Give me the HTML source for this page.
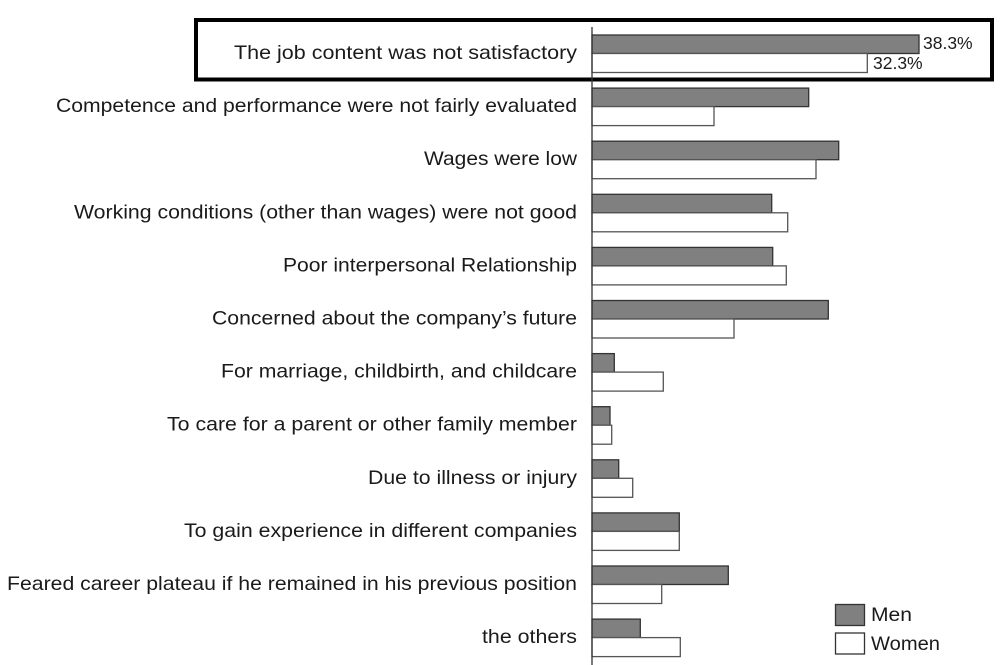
<!DOCTYPE html>
<html>
<head>
<meta charset="utf-8">
<style>
html,body{margin:0;padding:0;background:#fff;}
svg{display:block;}
text{font-family:"Liberation Sans","Noto Sans CJK JP",sans-serif;fill:#1a1a1a;}
</style>
</head>
<body>
<svg width="1000" height="665" viewBox="0 0 1000 665" xmlns="http://www.w3.org/2000/svg">
<rect x="0" y="0" width="1000" height="665" fill="#fff"/>

<!-- highlight box -->
<rect x="196" y="20" width="796" height="59.5" fill="none" stroke="#000" stroke-width="4"/>

<!-- bars -->
<g stroke-width="1.3">
<rect x="592" y="35" width="327" height="18.5" fill="#808080" stroke="#333"/>
<rect x="592" y="53.5" width="275.3" height="19" fill="#fff" stroke="#555"/>
<rect x="592" y="88.1" width="216.7" height="18.5" fill="#808080" stroke="#333"/>
<rect x="592" y="106.6" width="122" height="19" fill="#fff" stroke="#555"/>
<rect x="592" y="141.2" width="246.7" height="18.5" fill="#808080" stroke="#333"/>
<rect x="592" y="159.7" width="224" height="19" fill="#fff" stroke="#555"/>
<rect x="592" y="194.3" width="179.7" height="18.5" fill="#808080" stroke="#333"/>
<rect x="592" y="212.8" width="195.7" height="19" fill="#fff" stroke="#555"/>
<rect x="592" y="247.4" width="180.7" height="18.5" fill="#808080" stroke="#333"/>
<rect x="592" y="265.9" width="194.3" height="19" fill="#fff" stroke="#555"/>
<rect x="592" y="300.5" width="236.3" height="18.5" fill="#808080" stroke="#333"/>
<rect x="592" y="319" width="142" height="19" fill="#fff" stroke="#555"/>
<rect x="592" y="353.6" width="22.3" height="18.5" fill="#808080" stroke="#333"/>
<rect x="592" y="372.1" width="71.3" height="19" fill="#fff" stroke="#555"/>
<rect x="592" y="406.7" width="18" height="18.5" fill="#808080" stroke="#333"/>
<rect x="592" y="425.2" width="19.7" height="19" fill="#fff" stroke="#555"/>
<rect x="592" y="459.8" width="26.7" height="18.5" fill="#808080" stroke="#333"/>
<rect x="592" y="478.3" width="40.7" height="19" fill="#fff" stroke="#555"/>
<rect x="592" y="512.9" width="87.3" height="18.5" fill="#808080" stroke="#333"/>
<rect x="592" y="531.4" width="87.3" height="19" fill="#fff" stroke="#555"/>
<rect x="592" y="566" width="136.3" height="18.5" fill="#808080" stroke="#333"/>
<rect x="592" y="584.5" width="69.7" height="19" fill="#fff" stroke="#555"/>
<rect x="592" y="619.1" width="48.3" height="18.5" fill="#808080" stroke="#333"/>
<rect x="592" y="637.6" width="88.3" height="19" fill="#fff" stroke="#555"/>
</g>

<!-- axis -->
<line x1="592" y1="27" x2="592" y2="665" stroke="#333" stroke-width="1.3"/>

<!-- value labels -->
<text x="923" y="49" font-size="17.5">38.3%</text>
<text x="873" y="69" font-size="17.5">32.3%</text>

<!-- category labels -->
<g font-size="19.5" text-anchor="end">
<text x="577" y="59" textLength="343" lengthAdjust="spacingAndGlyphs">The job content was not satisfactory</text>
<text x="577" y="112.1" textLength="521" lengthAdjust="spacingAndGlyphs">Competence and performance were not fairly evaluated</text>
<text x="577" y="165.2" textLength="153" lengthAdjust="spacingAndGlyphs">Wages were low</text>
<text x="577" y="218.3" textLength="503" lengthAdjust="spacingAndGlyphs">Working conditions (other than wages) were not good</text>
<text x="577" y="271.4" textLength="294" lengthAdjust="spacingAndGlyphs">Poor interpersonal Relationship</text>
<text x="577" y="324.5" textLength="365" lengthAdjust="spacingAndGlyphs">Concerned about the company’s future</text>
<text x="577" y="377.6" textLength="356" lengthAdjust="spacingAndGlyphs">For marriage, childbirth, and childcare</text>
<text x="577" y="430.7" textLength="410" lengthAdjust="spacingAndGlyphs">To care for a parent or other family member</text>
<text x="577" y="483.8" textLength="209" lengthAdjust="spacingAndGlyphs">Due to illness or injury</text>
<text x="577" y="536.9" textLength="393" lengthAdjust="spacingAndGlyphs">To gain experience in different companies</text>
<text x="577" y="590" textLength="570" lengthAdjust="spacingAndGlyphs">Feared career plateau if he remained in his previous position</text>
<text x="577" y="643.1" textLength="95" lengthAdjust="spacingAndGlyphs">the others</text>
</g>

<!-- legend -->
<rect x="835.5" y="604.5" width="29" height="21" fill="#808080" stroke="#333" stroke-width="1.3"/>
<rect x="835.5" y="633" width="29" height="21" fill="#fff" stroke="#333" stroke-width="1.3"/>
<text x="871" y="621" font-size="19.5" textLength="41" lengthAdjust="spacingAndGlyphs">Men</text>
<text x="871" y="650" font-size="19.5" textLength="69" lengthAdjust="spacingAndGlyphs">Women</text>
</svg>
</body>
</html>
